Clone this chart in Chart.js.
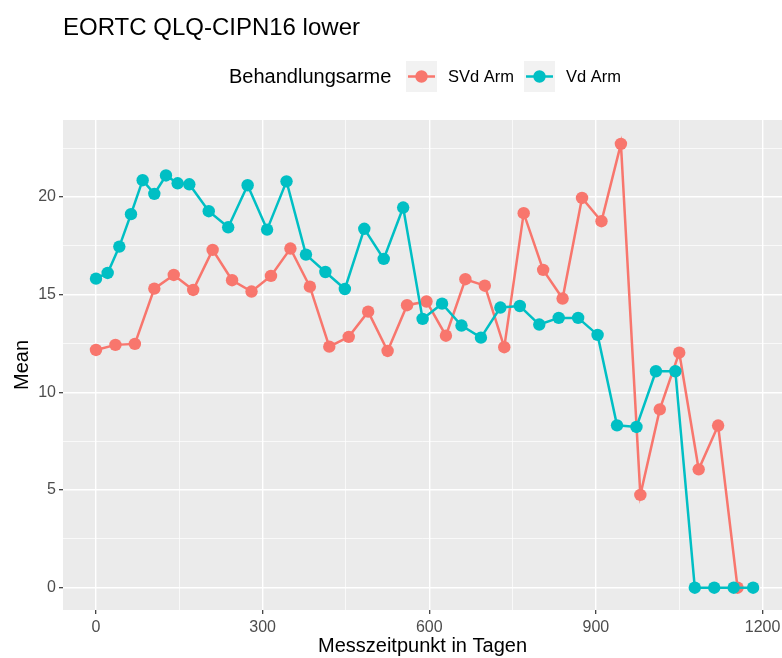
<!DOCTYPE html>
<html>
<head>
<meta charset="utf-8">
<script src="https://cdn.jsdelivr.net/npm/chart.js@4.4.1/dist/chart.umd.min.js"></script>
<style>
  body { margin: 0; background: #fff; }
  #grafico { display: block; }
</style>
</head>
<body>
<canvas id="grafico" width="782" height="658"></canvas>
<script>
// Messzeitpunkte (Tage) und Mittelwerte je Behandlungsarm
const tageSVd = [0, 35, 70, 105, 140, 175, 210, 245, 280, 315, 350, 385, 420, 455, 490, 525, 560,
  595, 630, 665, 700, 735, 770, 805, 840, 875, 910, 945, 980, 1015, 1050, 1085, 1120, 1155];
const meanSVd = [12.17, 12.43, 12.48, 15.31, 16.01, 15.24, 17.29, 15.74, 15.16, 15.96, 17.36, 15.41,
  12.34, 12.84, 14.13, 12.12, 14.46, 14.65, 12.9, 15.79, 15.46, 12.31, 19.17, 16.27, 14.8, 19.95,
  18.76, 22.72, 4.75, 9.13, 12.03, 6.06, 8.3, 0];

const tageVd = [0, 21, 42, 63, 84, 105, 126, 147, 168, 203, 238, 273, 308, 343, 378, 413, 448, 483,
  518, 553, 588, 623, 658, 693, 728, 763, 798, 833, 868, 903, 938, 973, 1008, 1043, 1078, 1113, 1148, 1183];
const meanVd = [15.82, 16.11, 17.46, 19.12, 20.86, 20.16, 21.1, 20.7, 20.65, 19.27, 18.45, 20.6, 18.33,
  20.8, 17.05, 16.16, 15.29, 18.37, 16.83, 19.46, 13.76, 14.54, 13.42, 12.8, 14.34, 14.42, 13.47,
  13.81, 13.81, 12.94, 8.31, 8.23, 11.08, 11.08, 0, 0, 0, 0];

const xTicks = [0, 300, 600, 900, 1200];
const yTicks = [0, 5, 10, 15, 20];

const armNamen = ['SVd Arm', 'Vd Arm'];
const farben = ['#F8766D', '#00BFC4'];

const fuente = "'Liberation Sans', Arial, sans-serif";

function punkte(tage, werte) {
  return tage.map((t, i) => ({ x: t, y: werte[i] }));
}

// fondo gris del panel
const fondoPanel = {
  id: 'fondoPanel',
  beforeDraw(chart) {
    const a = chart.chartArea;
    const ctx = chart.ctx;
    ctx.save();
    ctx.fillStyle = '#EBEBEB';
    ctx.fillRect(a.left, a.top, a.right - a.left, a.bottom - a.top);
    ctx.restore();
  }
};

// titulo y leyenda al estilo ggplot
const tituloLeyenda = {
  id: 'tituloLeyenda',
  afterDraw(chart) {
    const ctx = chart.ctx;
    ctx.save();
    ctx.fillStyle = '#000';
    ctx.textBaseline = 'middle';
    ctx.textAlign = 'left';
    ctx.font = '24px ' + fuente;
    ctx.fillText('EORTC QLQ-CIPN16 lower', 63, 28);

    ctx.font = '20px ' + fuente;
    ctx.fillText('Behandlungsarme', 229, 77);

    const cajas = [406, 524];
    ctx.font = '16.5px ' + fuente;
    armNamen.forEach((nombre, i) => {
      const x0 = cajas[i];
      ctx.fillStyle = '#F2F2F2';
      ctx.fillRect(x0, 61, 31, 31);
      ctx.strokeStyle = farben[i];
      ctx.lineWidth = 2.5;
      ctx.beginPath();
      ctx.moveTo(x0 + 2, 76.5);
      ctx.lineTo(x0 + 29, 76.5);
      ctx.stroke();
      ctx.fillStyle = farben[i];
      ctx.beginPath();
      ctx.arc(x0 + 15.5, 76.5, 6.2, 0, Math.PI * 2);
      ctx.fill();
      ctx.fillStyle = '#000';
      ctx.fillText(nombre, x0 + 42, 77);
    });
    ctx.restore();
  }
};

const ctx = document.getElementById('grafico').getContext('2d');

new Chart(ctx, {
  type: 'line',
  data: {
    datasets: [
      {
        label: armNamen[0],
        data: punkte(tageSVd, meanSVd),
        borderColor: farben[0],
        backgroundColor: farben[0],
        borderWidth: 2.5,
        pointRadius: 6.2,
        pointBorderWidth: 0,
        tension: 0,
        order: 2
      },
      {
        label: armNamen[1],
        data: punkte(tageVd, meanVd),
        borderColor: farben[1],
        backgroundColor: farben[1],
        borderWidth: 2.5,
        pointRadius: 6.2,
        pointBorderWidth: 0,
        tension: 0,
        order: 1
      }
    ]
  },
  options: {
    responsive: false,
    animation: false,
    layout: { autoPadding: false, padding: { top: 120, right: 0, left: 0, bottom: 0 } },
    plugins: {
      legend: { display: false },
      title: { display: false },
      tooltip: { enabled: false }
    },
    scales: {
      x: {
        type: 'linear',
        min: -59.4,
        max: 1235,
        afterFit(scale) {
          scale.height = 48;
          scale.paddingLeft = 0;
          scale.paddingRight = 0;
        },
        border: { display: false },
        grid: {
          color: '#FFFFFF',
          lineWidth: c => (xTicks.includes(c.tick.value) ? 1.4 : 0.7),
          drawTicks: true,
          tickLength: 4,
          tickWidth: 1.2,
          tickColor: c => (xTicks.includes(c.tick.value) ? '#333333' : 'rgba(0,0,0,0)')
        },
        ticks: {
          stepSize: 150,
          includeBounds: false,
          autoSkip: false,
          maxRotation: 0,
          padding: 4,
          color: '#4D4D4D',
          font: { family: fuente, size: 16 },
          callback: v => (xTicks.includes(v) ? String(v) : '')
        },
        title: {
          display: true,
          text: 'Messzeitpunkt in Tagen',
          color: '#000',
          font: { family: fuente, size: 20 },
          padding: { top: 0, bottom: 0 }
        }
      },
      y: {
        type: 'linear',
        min: -1.14,
        max: 23.94,
        afterFit(scale) {
          scale.width = 63;
          scale.paddingTop = 0;
          scale.paddingBottom = 0;
        },
        border: { display: false },
        grid: {
          color: '#FFFFFF',
          lineWidth: c => (yTicks.includes(c.tick.value) ? 1.4 : 0.7),
          drawTicks: true,
          tickLength: 4,
          tickWidth: 1.2,
          tickColor: c => (yTicks.includes(c.tick.value) ? '#333333' : 'rgba(0,0,0,0)')
        },
        ticks: {
          stepSize: 2.5,
          includeBounds: false,
          autoSkip: false,
          padding: 3,
          color: '#4D4D4D',
          font: { family: fuente, size: 16 },
          callback: v => (yTicks.includes(v) ? String(v) : '')
        },
        title: {
          display: true,
          text: 'Mean',
          color: '#000',
          font: { family: fuente, size: 20 },
          padding: { top: 10, bottom: 0 }
        }
      }
    }
  },
  plugins: [fondoPanel, tituloLeyenda]
});
</script>
</body>
</html>
